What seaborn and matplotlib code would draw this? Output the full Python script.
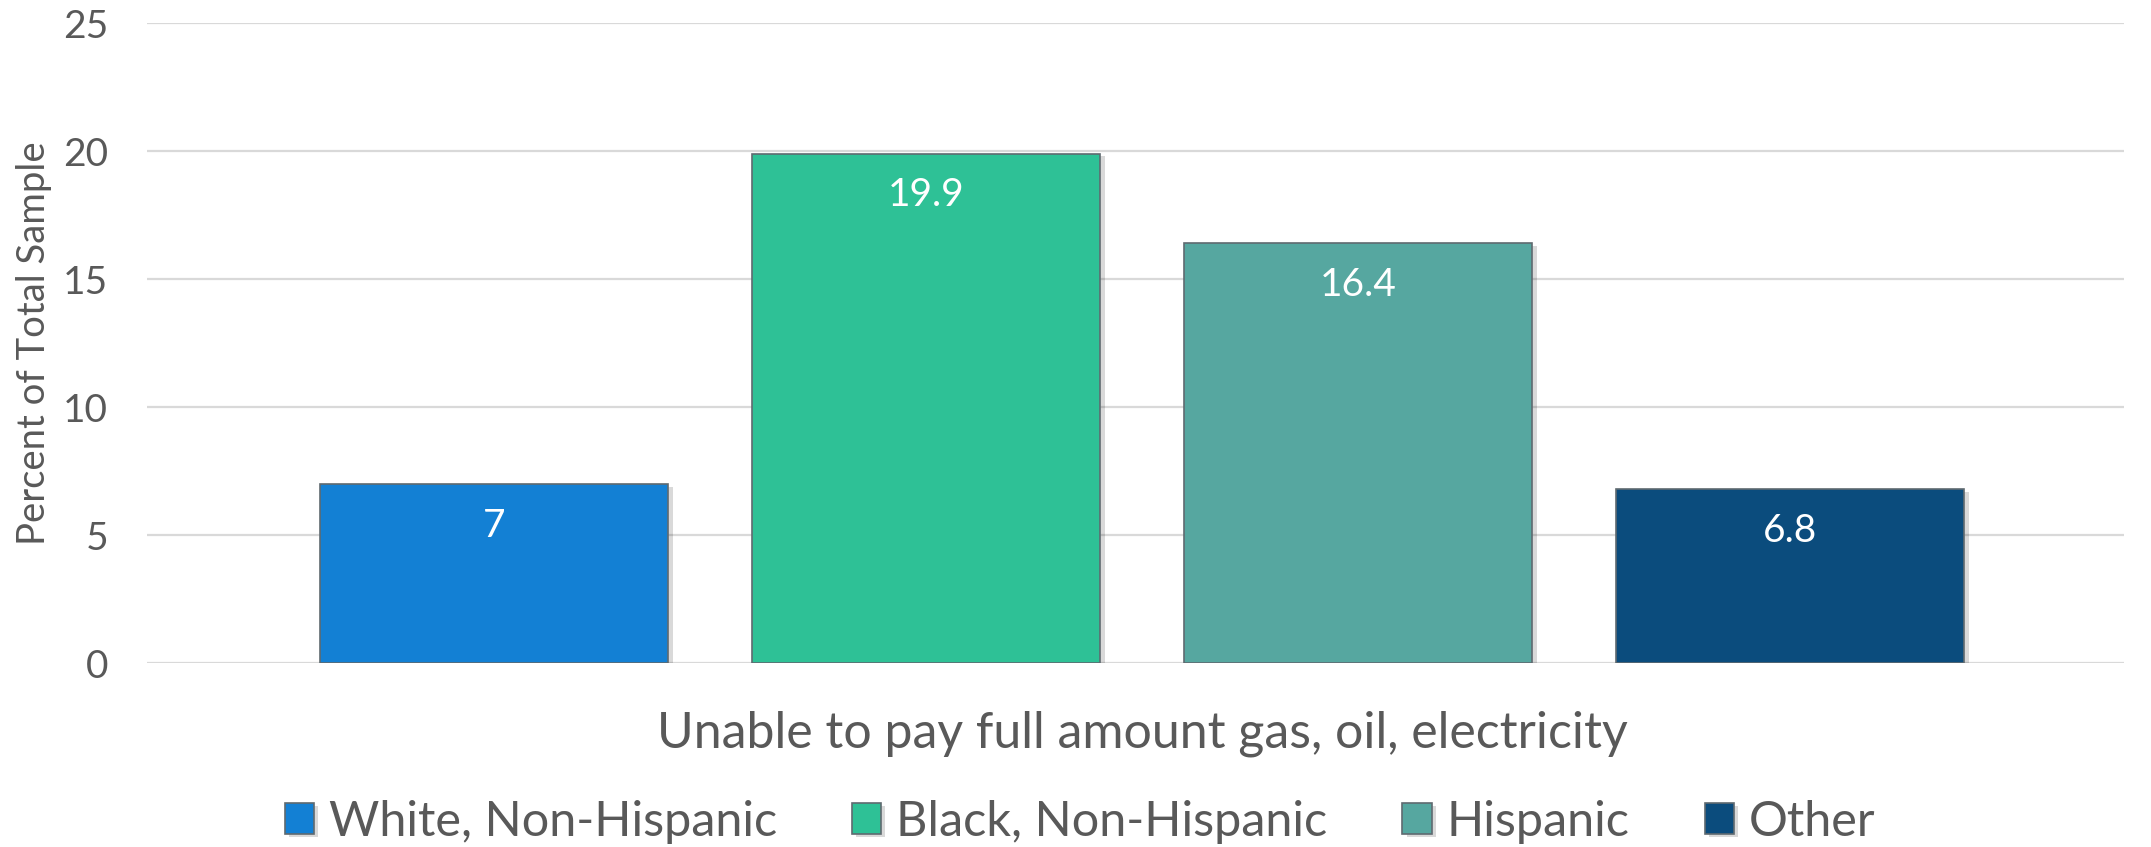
import matplotlib
matplotlib.use("Agg")
import matplotlib.pyplot as plt
import matplotlib.patheffects as pe
import seaborn as sns
import pandas as pd

category = ["Unable to pay full amount gas, oil, electricity"]
groups = ["White, Non-Hispanic", "Black, Non-Hispanic", "Hispanic", "Other"]
values = [7, 19.9, 16.4, 6.8]
colors = ["#1380D4", "#2EC196", "#56A7A0", "#0B4C7D"]
yticks = [0, 5, 10, 15, 20, 25]

df = pd.DataFrame({"cat": category * len(groups), "group": groups, "value": values})

sns.set_theme(style="white")
plt.rcParams['font.family'] = ['Lato', 'DejaVu Sans']
txt = "#595959"

fig = plt.figure(figsize=(21.51, 8.47), dpi=100)
ax = fig.add_axes([0.0683, 0.2172, 0.9191, 0.7556])

sns.barplot(data=df, x="cat", y="value", hue="group", palette=colors,
            width=0.874, gap=0.194, ax=ax, errorbar=None, zorder=3,
            edgecolor="#5f6a70", linewidth=1.2, saturation=1)

for p in ax.patches:
    p.set_path_effects([pe.SimplePatchShadow(offset=(3, -2), alpha=0.15, shadow_rgbFace="#000000"), pe.Normal()])

for cont in ax.containers:
    for bar, v in zip(cont, cont.datavalues):
        ax.annotate(f"{v:g}", (bar.get_x() + bar.get_width() / 2, bar.get_height()),
                    xytext=(0, -30), textcoords="offset points", ha="center", va="center",
                    color="white", fontsize=28, zorder=5)

ax.set_xlim(-0.5035, 0.4965)
ax.set_ylim(0, 25)
ax.set_yticks(yticks)
ax.set_yticklabels([str(t) for t in yticks])
ax.yaxis.grid(True, color="#D9D9D9", linewidth=1.6, zorder=0)
ax.set_axisbelow(True)
for s in ax.spines.values():
    s.set_visible(False)
ax.tick_params(axis="y", length=0, pad=28, labelsize=28, labelcolor=txt)
ax.tick_params(axis="x", length=0, pad=34, labelsize=36, labelcolor=txt)
ax.set_xlabel("")
ax.set_ylabel("Percent of Total Sample", fontsize=27.5, color=txt, labelpad=8)

handles, labels = ax.get_legend_handles_labels()
ax.legend_.remove()
fig.legend(handles, labels, loc="center", bbox_to_anchor=(0.502, 0.03), ncol=4,
           frameon=False, fontsize=35, labelcolor=txt, handlelength=0.6, handleheight=0.6,
           handletextpad=0.3, columnspacing=1.55)

fig.savefig("out.png", dpi=100)
